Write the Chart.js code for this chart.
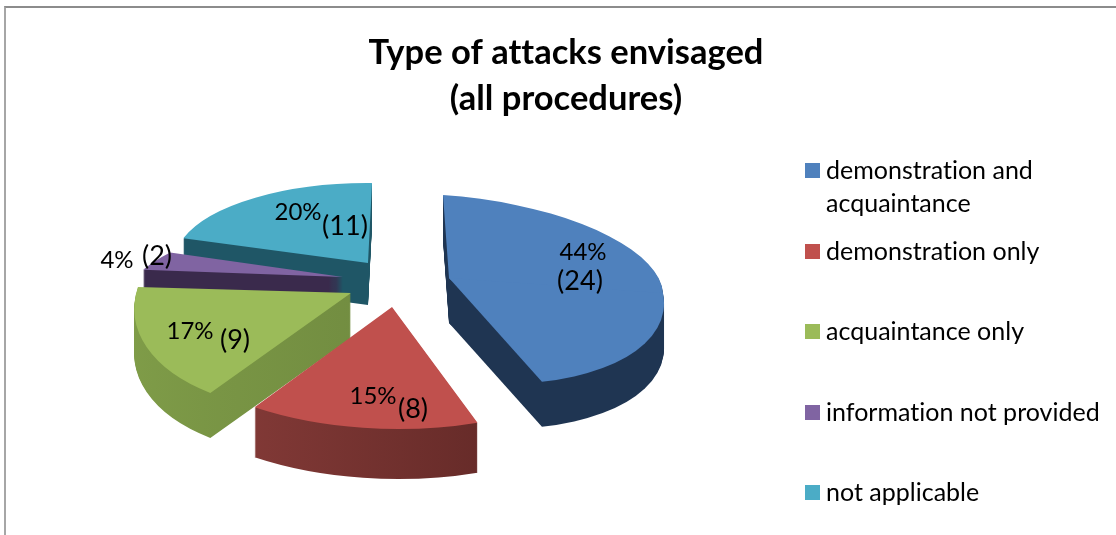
<!DOCTYPE html>
<html>
<head>
<meta charset="utf-8">
<title>Type of attacks envisaged</title>
<script src="https://cdn.jsdelivr.net/npm/chart.js@4/dist/chart.umd.min.js"></script>
<style>
  html, body { margin: 0; padding: 0; background: #fff; overflow: hidden; }
  #frame { position: absolute; left: 4px; top: 6px; width: 1112px; height: 529px;
           border-top: 2px solid #8c8c8c; border-left: 2px solid #a6a6a6; box-sizing: border-box; }
  #wrap { position: absolute; left: 0; top: 0; width: 1116px; height: 535px; }
</style>
</head>
<body>
<div id="frame"></div>
<div id="wrap"><canvas id="attackChart"></canvas></div>
<script>
// data
const categories = [['demonstration and', 'acquaintance'], 'demonstration only', 'acquaintance only', 'information not provided', 'not applicable'];
const attackCounts = [24, 8, 9, 2, 11];
const titleLines = ['Type of attacks envisaged', '(all procedures)'];

// colours
const topColors = ['#4f81bd', '#c0504d', '#9bbb59', '#8064a2', '#4bacc6'];
const sideFrom = ['#1f3552', '#8d3f3c', '#7f9c48', '#3a2a4c', '#1f5666'];
const sideTo = ['#1f3552', '#552220', '#667f3a', '#3a2a4c', '#1f5666'];

// fake 3d layout: where each slice sits and how it is squashed
const PIE_X = 353, PIE_Y = 297;
const sliceShift = [[96, -19], [39, 10], [-2, -4], [-10, -20], [15, -34]];
const sliceMatrix = [
    [214, 15, 6, 83],
    [250, 3, 0, 122],
    [215, -1, -27, 119],
    [205, 3, -82, 75],
    [194, 2, -4, 80]
];
// the big blue slice needs a second matrix for its nearer half (perspective)
const sliceMatrixNear = [[214, 15, 21, 105], null, null, null, null];
const sliceDepth = [45, 50, 45, 19, 42];
const drawOrder = [4, 3, 2, 0, 1];

// label placement
const percentPos = [[583, 252], [373, 396], [190, 331], [117, 260], [298, 212]];
const countPos = [[580, 281], [413, 409], [235, 340], [157, 256], [345, 226]];
const legendRowY = [170, 251, 331, 412, 492];

const FONT = 'Lato, "Open Sans", sans-serif';

const fakePie3d = {
    id: 'fakePie3d',
    beforeDraw(chart) {
        // any spacing at all switches off the Lato tt / ti ligatures
        chart.ctx.letterSpacing = '0.01px';
    },
    beforeDatasetDraw(chart, args) {
        const ctx = chart.ctx;
        const arcs = args.meta.data;

        drawOrder.forEach(i => {
            const arc = arcs[i];
            const R = arc.outerRadius;

            const drawPart = (m, dy, clipTop) => {
                ctx.save();
                ctx.translate(PIE_X + sliceShift[i][0], PIE_Y + sliceShift[i][1] + dy);
                ctx.transform(m[0] / R, m[1] / R, m[2] / R, m[3] / R, 0, 0);
                ctx.translate(-arc.x, -arc.y);
                if (clipTop !== undefined) {
                    ctx.beginPath();
                    // far half runs a bit past the middle so no seam shows
                    if (clipTop) ctx.rect(arc.x - R - 2, arc.y - R - 2, 2 * R + 4, R + 8);
                    else ctx.rect(arc.x - R - 2, arc.y, 2 * R + 4, R + 2);
                    ctx.clip();
                }
                arc.draw(ctx);
                ctx.restore();
            };
            const drawSlice = (dy) => {
                if (sliceMatrixNear[i]) {
                    drawPart(sliceMatrix[i], dy, true);
                    drawPart(sliceMatrixNear[i], dy, false);
                } else {
                    drawPart(sliceMatrix[i], dy);
                }
            };

            const baseOptions = arc.options;

            // side wall, stacked copies of the slice going down
            const grad = ctx.createLinearGradient(arc.x - R, 0, arc.x + R, 0);
            grad.addColorStop(0, sideFrom[i]);
            grad.addColorStop(1, sideTo[i]);
            arc.options = Object.create(baseOptions);
            arc.options.backgroundColor = grad;
            for (let dy = sliceDepth[i]; dy > 0; dy--) {
                drawSlice(dy);
            }
            arc.options = baseOptions;

            drawSlice(0);
        });
        return false; // already drawn
    },
    afterDraw(chart) {
        const ctx = chart.ctx;
        const total = attackCounts.reduce((a, b) => a + b, 0);
        ctx.save();
        ctx.fillStyle = '#000';
        ctx.textAlign = 'center';
        ctx.textBaseline = 'middle';
        attackCounts.forEach((v, i) => {
            ctx.font = '24px ' + FONT;
            ctx.fillText(Math.round(v / total * 100) + '%', percentPos[i][0], percentPos[i][1]);
            ctx.font = '27px ' + FONT;
            ctx.fillText('(' + v + ')', countPos[i][0], countPos[i][1]);
        });

        // legend
        ctx.textAlign = 'left';
        ctx.font = '25px ' + FONT;
        categories.forEach((c, i) => {
            const y = legendRowY[i];
            ctx.fillStyle = topColors[i];
            ctx.fillRect(805, y - 7, 15, 15);
            ctx.fillStyle = '#000';
            const lines = Array.isArray(c) ? c : [c];
            lines.forEach((line, k) => ctx.fillText(line, 826, y + 1 + k * 33));
        });
        ctx.restore();
    }
};

const chart = new Chart(document.getElementById('attackChart'), {
    type: 'pie',
    data: {
        labels: categories,
        datasets: [{
            data: attackCounts,
            backgroundColor: topColors,
            borderWidth: 0
        }]
    },
    options: {
        responsive: true,
        maintainAspectRatio: false,
        animation: false,
        layout: { padding: { left: 16 } },
        plugins: {
            legend: { display: false },
            tooltip: { enabled: false },
            title: {
                display: true,
                text: titleLines,
                color: '#000',
                font: { family: FONT, size: 34.5, weight: 'bold', lineHeight: 1.33 },
                padding: { top: 30, bottom: 10 }
            }
        }
    },
    plugins: [fakePie3d]
});
</script>
</body>
</html>
